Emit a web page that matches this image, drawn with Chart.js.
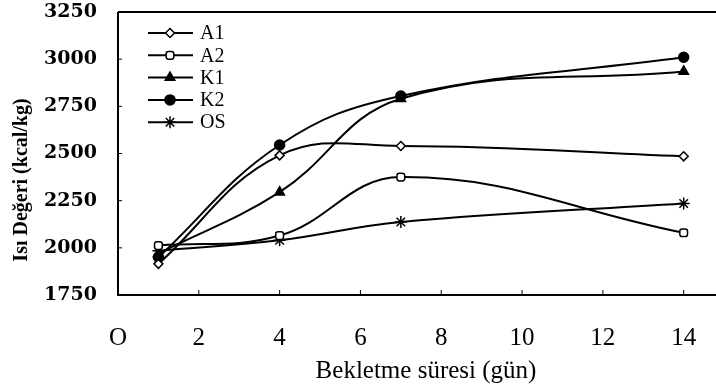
<!DOCTYPE html>
<html>
<head>
<meta charset="utf-8">
<script src="https://cdn.jsdelivr.net/npm/chart.js@4"></script>
<style>
  html, body { margin: 0; padding: 0; background: #fff; }
  #wrap { width: 716px; height: 389px; }
</style>
</head>
<body>
<div id="wrap"><canvas id="chart" width="716" height="389"></canvas></div>
<script>
// days of storage
const days = [1, 4, 7, 14];

// heat value series (kcal/kg)
const a1 = [1915, 2490, 2540, 2485];
const a2 = [2012, 2065, 2375, 2080];
const k1 = [1970, 2295, 2790, 2935];
const k2 = [1950, 2545, 2805, 3010];
const os = [1985, 2040, 2137, 2235];

const seriesNames = ["A1", "A2", "K1", "K2", "OS"];
const seriesValues = [a1, a2, k1, k2, os];
const pointStyles = ["rectRot", "rectRounded", "triangle", "circle", "star"];
const pointFills = ["#fff", "#fff", "#000", "#000", "#000"];
const pointSizes = [4.5, 4.5, 5.5, 5, 6];

// axis ticks
const xTicks = [0, 2, 4, 6, 8, 10, 12, 14];
const yMin = 1750, yMax = 3250, yStep = 250;
const xMin = 0, xMax = 14.8;

const serif = "'Liberation Serif', 'Times New Roman', serif";

// axes frame, inward tick marks, legend and axis titles
const decorPlugin = {
  id: 'decor',
  afterDraw(chart) {
    const ctx = chart.ctx;
    const a = chart.chartArea;
    const xs = chart.scales.x, ys = chart.scales.y;
    ctx.save();
    ctx.strokeStyle = '#000';
    ctx.lineWidth = 2;
    ctx.beginPath();
    ctx.moveTo(a.left, a.top); ctx.lineTo(a.right, a.top);
    ctx.moveTo(a.left, a.top); ctx.lineTo(a.left, a.bottom);
    ctx.lineTo(a.right, a.bottom);
    ctx.stroke();

    ctx.lineWidth = 1;
    ctx.beginPath();
    ys.ticks.forEach(t => {
      const py = ys.getPixelForValue(t.value);
      ctx.moveTo(a.left, py); ctx.lineTo(a.left + 4, py);
    });
    xs.ticks.forEach(t => {
      const px = xs.getPixelForValue(t.value);
      ctx.moveTo(px, a.bottom); ctx.lineTo(px, a.bottom - 5);
    });
    ctx.stroke();

    // legend
    chart.data.datasets.forEach((ds, i) => {
      const ly = 33 + i * 22.3;
      ctx.strokeStyle = '#000';
      ctx.lineWidth = 2;
      ctx.beginPath();
      ctx.moveTo(148, ly); ctx.lineTo(193, ly);
      ctx.stroke();
      ctx.fillStyle = ds.pointBackgroundColor;
      ctx.lineWidth = 1.5;
      Chart.helpers.drawPoint(ctx, {
        pointStyle: ds.pointStyle, radius: ds.pointRadius,
        rotation: 0, borderWidth: 1.5
      }, 170, ly);
      ctx.fillStyle = '#000';
      ctx.font = "20px " + serif;
      ctx.textAlign = 'left';
      ctx.textBaseline = 'middle';
      ctx.fillText(ds.label, 200, ly + 1);
    });

    // x axis title
    ctx.fillStyle = '#000';
    ctx.font = "25px " + serif;
    ctx.textAlign = 'center';
    ctx.textBaseline = 'alphabetic';
    ctx.fillText('Bekletme süresi (gün)', 426, 378);

    // y axis title
    ctx.translate(22, 180);
    ctx.rotate(-Math.PI / 2);
    ctx.font = "bold 20px " + serif;
    ctx.textAlign = 'center';
    ctx.textBaseline = 'middle';
    ctx.fillText('Isı Değeri (kcal/kg)', 0, 0);
    ctx.restore();
  }
};

const datasets = seriesNames.map((name, i) => ({
  label: name,
  data: days.map((d, j) => ({ x: d, y: seriesValues[i][j] })),
  borderColor: '#000',
  borderWidth: 2,
  tension: 0.4,
  fill: false,
  clip: false,
  pointStyle: pointStyles[i],
  pointRadius: pointSizes[i],
  pointBackgroundColor: pointFills[i],
  pointBorderColor: '#000',
  pointBorderWidth: 1.5
}));

new Chart(document.getElementById('chart'), {
  type: 'line',
  data: { datasets },
  plugins: [decorPlugin],
  options: {
    responsive: false,
    animation: false,
    layout: { autoPadding: false, padding: { top: 12, right: 0, left: 0, bottom: 0 } },
    plugins: {
      legend: { display: false },
      tooltip: { enabled: false }
    },
    scales: {
      x: {
        type: 'linear',
        min: xMin, max: xMax,
        grid: { display: false, drawTicks: false },
        border: { display: false },
        afterBuildTicks(scale) {
          scale.ticks = xTicks.map(v => ({ value: v }));
        },
        afterFit(scale) {
          scale.height = 94;
          scale.paddingLeft = 0;
          scale.paddingRight = 0;
        },
        ticks: {
          padding: 28,
          color: '#000',
          font: { family: serif, size: 25 },
          callback: v => (v === 0 ? 'O' : String(v))
        }
      },
      y: {
        min: yMin, max: yMax,
        grid: { display: false, drawTicks: false },
        border: { display: false },
        afterFit(scale) {
          scale.width = 118;
          scale.paddingTop = 0;
          scale.paddingBottom = 0;
        },
        ticks: {
          stepSize: yStep,
          padding: 21,
          color: '#000',
          font: { family: "'DejaVu Serif', serif", size: 19, weight: 'bold' },
          callback: v => String(v)
        }
      }
    }
  }
});
</script>
</body>
</html>
